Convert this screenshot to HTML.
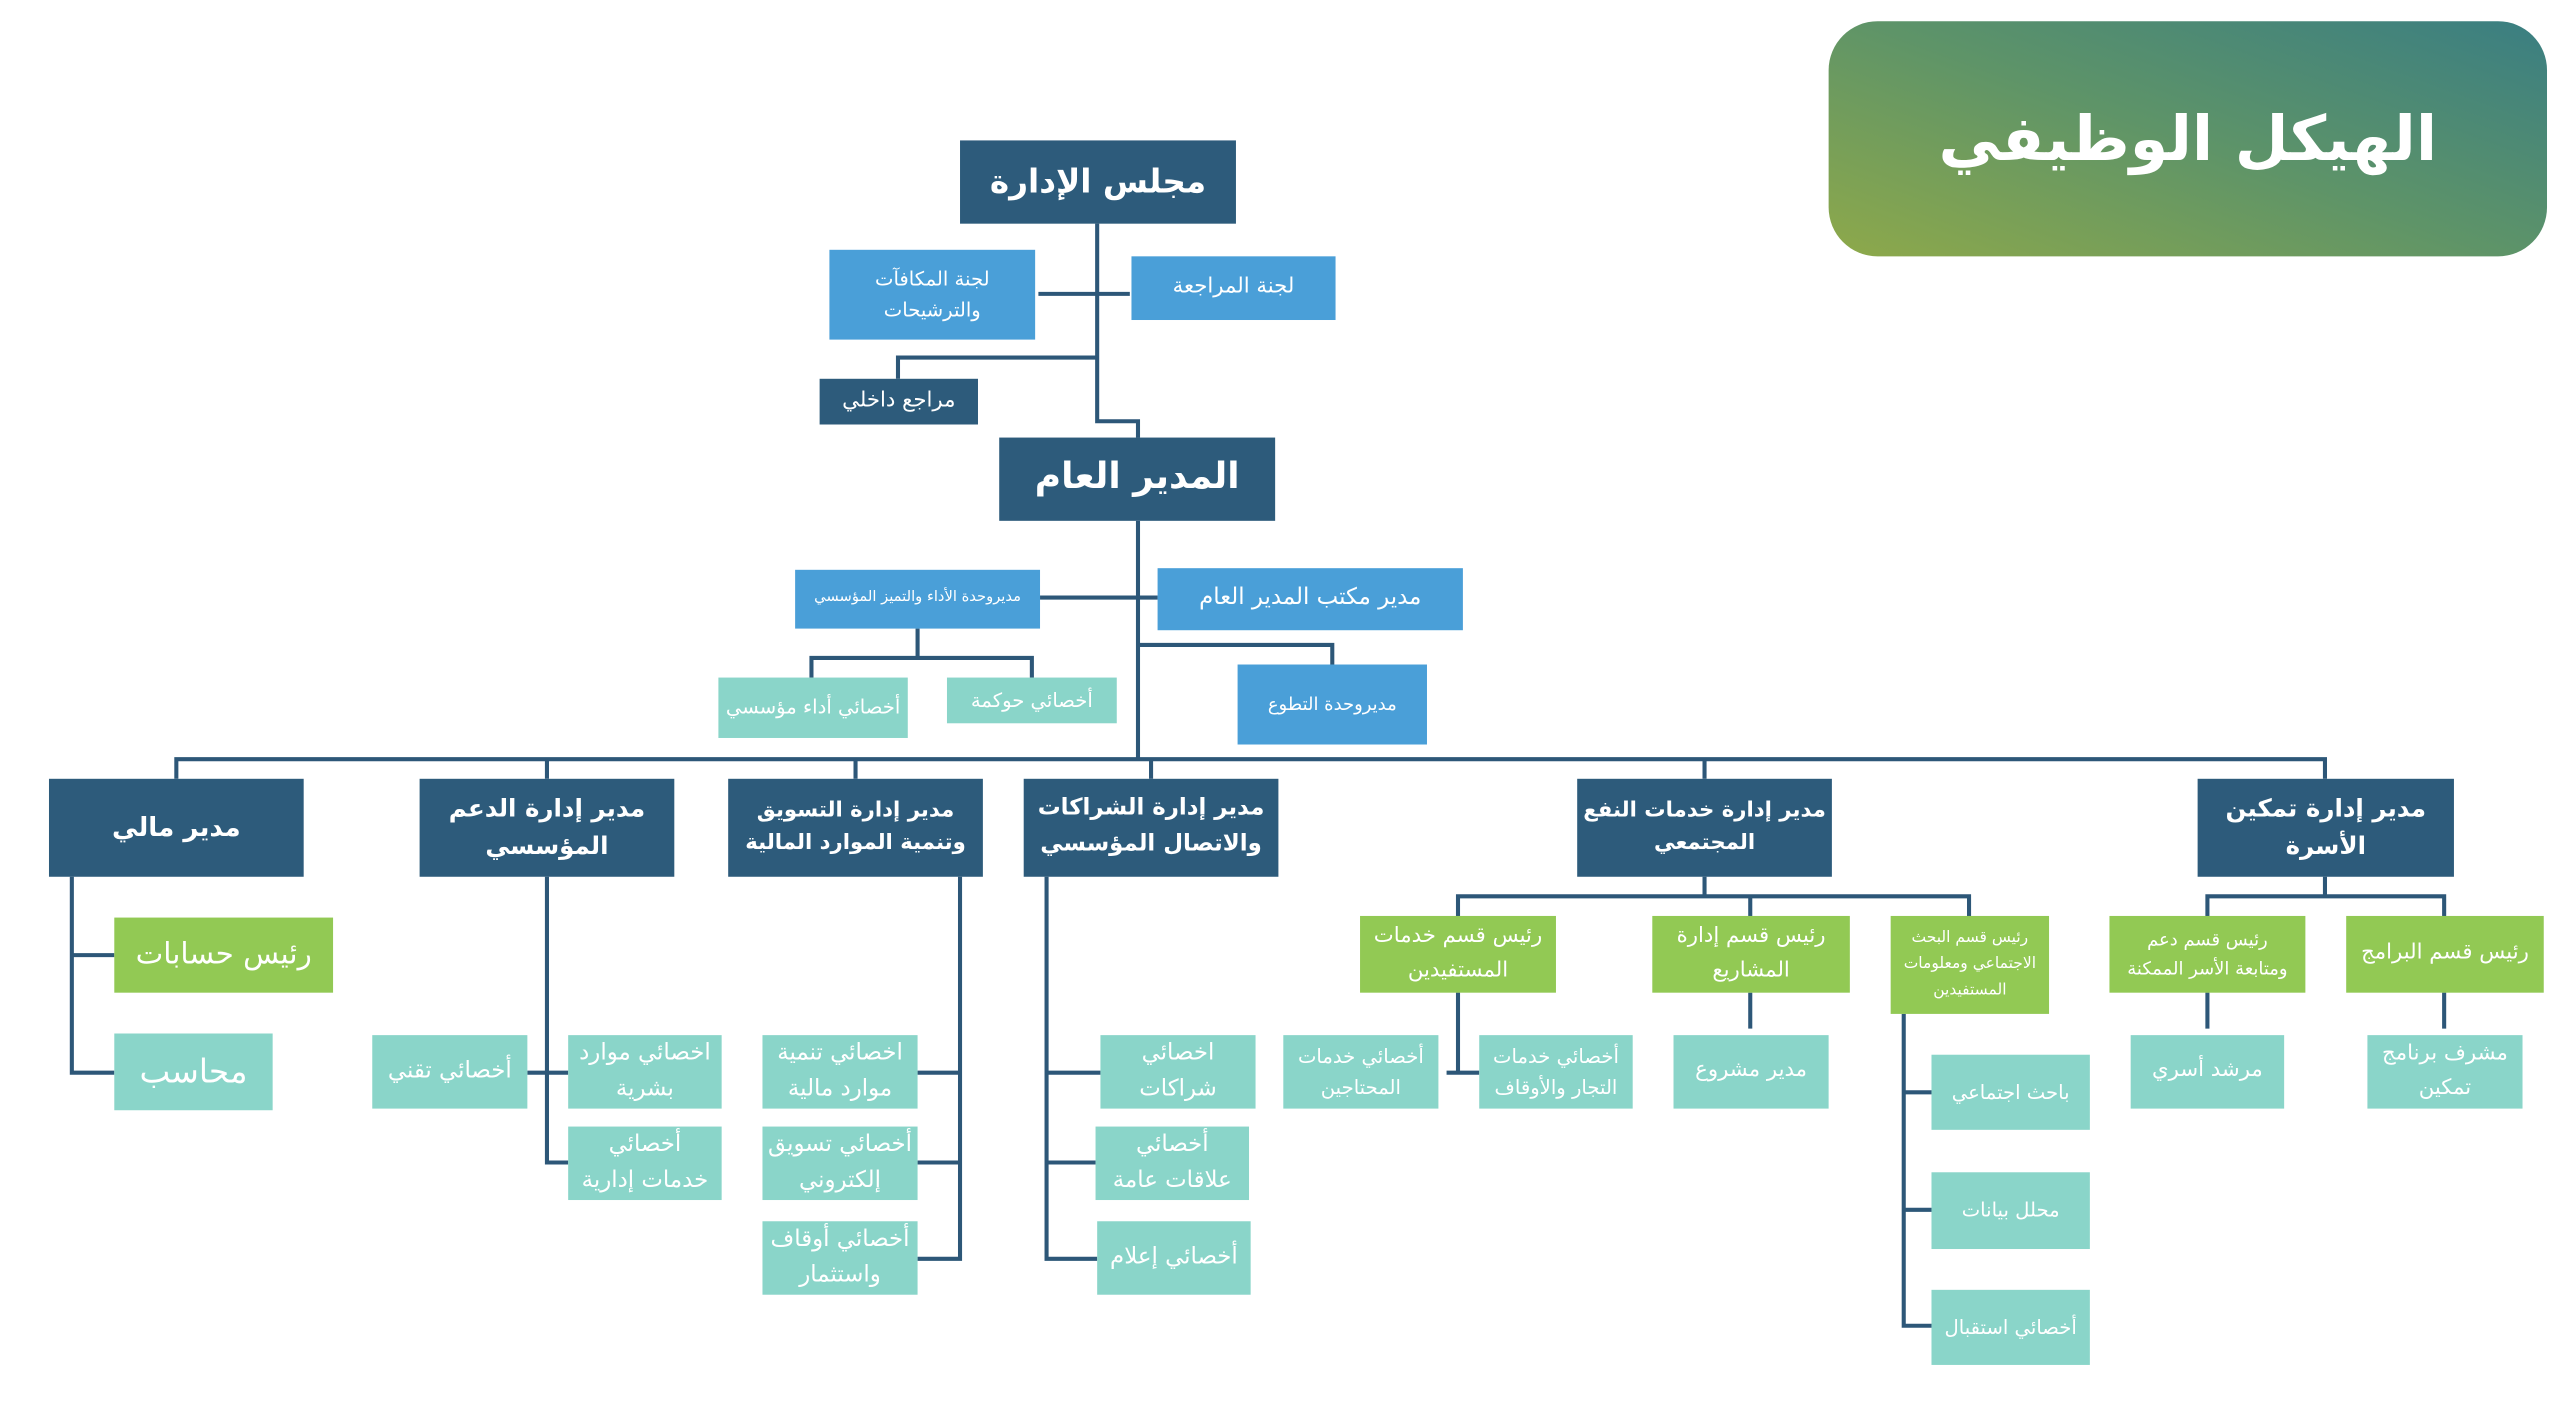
<!DOCTYPE html>
<html lang="ar" dir="rtl"><head><meta charset="utf-8">
<style>
html,body{margin:0;padding:0;background:#fff;width:2560px;height:1421px;overflow:hidden}
#w{position:absolute;left:0;top:0;width:1568px;height:870px;transform:scale(1.6327);transform-origin:0 0}
.b{position:absolute;display:flex;align-items:center;justify-content:center;text-align:center;color:#fff;font-family:"DejaVu Sans",sans-serif;line-height:1.55;box-sizing:border-box;padding:0 3px;overflow:hidden}
.n{background:#2D5B7B;font-weight:bold}
.l{background:#4A9FD8}
.g{background:#92C954}
.t{background:#8AD5C9}
.nw{white-space:nowrap}
svg{position:absolute;left:0;top:0}
#title{position:absolute;left:1120px;top:13px;width:440px;height:144px;border-radius:30px;background:linear-gradient(20deg,#8EA94A 0%,#5E9468 50%,#3A7E82 100%);color:#fff;font-family:"DejaVu Sans",sans-serif;font-size:38px;font-weight:bold;display:flex;align-items:center;justify-content:center}
</style></head><body><div id="w">
<svg width="1568" height="870" viewBox="0 0 1568 870"><g stroke="#2D5778" stroke-width="2.5" fill="none">
<path d="M672 137V258H697V268"/><path d="M636 180H692"/><path d="M672 219H550V232"/>
<path d="M697 319V465"/><path d="M637 366H709"/><path d="M697 395H816V407"/><path d="M562 385V403"/><path d="M497 415V403H632V415"/>
<path d="M108 477V465H1424V477"/><path d="M335 465V477M524 465V477M705 465V477M1044 465V477"/>
<path d="M44 537V657H70M44 585H70"/>
<path d="M335 537V712H348M323 657H348"/>
<path d="M588 537V771H562M562 657H588M562 712H588"/>
<path d="M641 537V771H672M641 657H674M641 712H671"/>
<path d="M1044 537V549M893 561V549H1206V561M1072 549V561"/>
<path d="M893 608V657M886 657H906"/><path d="M1072 608V630"/>
<path d="M1166 621V812H1183M1166 669H1183M1166 741H1183"/>
<path d="M1424 537V549M1352 561V549H1497V561"/><path d="M1352 608V630M1497 608V630"/>
</g></svg>
<div id="title">الهيكل الوظيفي</div>
<div class="b n" style="left:588px;top:86px;width:169px;height:51px;font-size:20px">مجلس الإدارة</div>
<div class="b l" style="left:508px;top:153px;width:126px;height:55px;font-size:12px">لجنة المكافآت<br>والترشيحات</div>
<div class="b l" style="left:693px;top:157px;width:125px;height:39px;font-size:13px">لجنة المراجعة</div>
<div class="b n" style="left:502px;top:232px;width:97px;height:28px;font-size:13px;font-weight:normal">مراجع داخلي</div>
<div class="b n" style="left:612px;top:268px;width:169px;height:51px;font-size:22px">المدير العام</div>
<div class="b l" style="left:487px;top:349px;width:150px;height:36px;font-size:9px">مديروحدة الأداء والتميز المؤسسي</div>
<div class="b l" style="left:709px;top:348px;width:187px;height:38px;font-size:14px">مدير مكتب المدير العام</div>
<div class="b t" style="left:440px;top:415px;width:116px;height:37px;font-size:12px">أخصائي أداء مؤسسي</div>
<div class="b t" style="left:580px;top:415px;width:104px;height:28px;font-size:12px">أخصائي حوكمة</div>
<div class="b l" style="left:758px;top:407px;width:116px;height:49px;font-size:11px">مديروحدة التطوع</div>
<div class="b n" style="left:30px;top:477px;width:156px;height:60px;font-size:16px">مدير مالي</div>
<div class="b n nw" style="left:257px;top:477px;width:156px;height:60px;font-size:15px">مدير إدارة الدعم<br>المؤسسي</div>
<div class="b n nw" style="left:446px;top:477px;width:156px;height:60px;font-size:13px">مدير إدارة التسويق<br>وتنمية الموارد المالية</div>
<div class="b n nw" style="left:627px;top:477px;width:156px;height:60px;font-size:14px">مدير إدارة الشراكات<br>والاتصال المؤسسي</div>
<div class="b n nw" style="left:966px;top:477px;width:156px;height:60px;font-size:13px">مدير إدارة خدمات النفع<br>المجتمعي</div>
<div class="b n nw" style="left:1346px;top:477px;width:157px;height:60px;font-size:15px">مدير إدارة تمكين<br>الأسرة</div>
<div class="b g" style="left:70px;top:562px;width:134px;height:46px;font-size:18px">رئيس حسابات</div>
<div class="b t" style="left:70px;top:633px;width:97px;height:47px;font-size:20px">محاسب</div>
<div class="b t" style="left:228px;top:634px;width:95px;height:45px;font-size:14px">أخصائي تقني</div>
<div class="b t" style="left:348px;top:634px;width:94px;height:45px;font-size:14px">اخصائي موارد<br>بشرية</div>
<div class="b t" style="left:348px;top:690px;width:94px;height:45px;font-size:14px">أخصائي<br>خدمات إدارية</div>
<div class="b t" style="left:467px;top:634px;width:95px;height:45px;font-size:14px">اخصائي تنمية<br>موارد مالية</div>
<div class="b t" style="left:467px;top:690px;width:95px;height:45px;font-size:14px">أخصائي تسويق<br>إلكتروني</div>
<div class="b t" style="left:467px;top:748px;width:95px;height:45px;font-size:14px">أخصائي أوقاف<br>واستثمار</div>
<div class="b t" style="left:674px;top:634px;width:95px;height:45px;font-size:14px">اخصائي<br>شراكات</div>
<div class="b t" style="left:671px;top:690px;width:94px;height:45px;font-size:14px">أخصائي<br>علاقات عامة</div>
<div class="b t" style="left:672px;top:748px;width:94px;height:45px;font-size:14px">أخصائي إعلام</div>
<div class="b g" style="left:833px;top:561px;width:120px;height:47px;font-size:13px">رئيس قسم خدمات<br>المستفيدين</div>
<div class="b g" style="left:1012px;top:561px;width:121px;height:47px;font-size:13px">رئيس قسم إدارة<br>المشاريع</div>
<div class="b g" style="left:1158px;top:561px;width:97px;height:60px;font-size:9.5px;line-height:1.7">رئيس قسم البحث<br>الاجتماعي ومعلومات<br>المستفيدين</div>
<div class="b t" style="left:786px;top:634px;width:95px;height:45px;font-size:12px">أخصائي خدمات<br>المحتاجين</div>
<div class="b t" style="left:906px;top:634px;width:94px;height:45px;font-size:12px">أخصائي خدمات<br>التجار والأوقاف</div>
<div class="b t" style="left:1025px;top:634px;width:95px;height:45px;font-size:13px">مدير مشروع</div>
<div class="b t" style="left:1183px;top:646px;width:97px;height:46px;font-size:12px">باحث اجتماعي</div>
<div class="b t" style="left:1183px;top:718px;width:97px;height:47px;font-size:12px">محلل بيانات</div>
<div class="b t" style="left:1183px;top:790px;width:97px;height:46px;font-size:12px">أخصائي استقبال</div>
<div class="b g" style="left:1292px;top:561px;width:120px;height:47px;font-size:11px">رئيس قسم دعم<br>ومتابعة الأسر الممكنة</div>
<div class="b g" style="left:1437px;top:561px;width:121px;height:47px;font-size:13px">رئيس قسم البرامج</div>
<div class="b t" style="left:1305px;top:634px;width:94px;height:45px;font-size:13px">مرشد أسري</div>
<div class="b t" style="left:1450px;top:634px;width:95px;height:45px;font-size:13px">مشرف برنامج<br>تمكين</div>
</div></body></html>
